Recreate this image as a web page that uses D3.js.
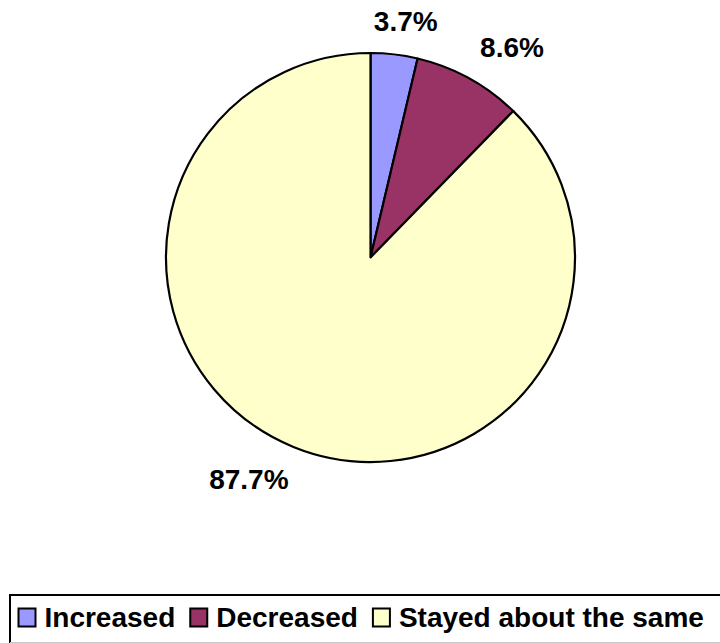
<!DOCTYPE html>
<html>
<head>
<meta charset="utf-8">
<script src="https://cdn.jsdelivr.net/npm/d3@7"></script>
<style>
  html, body { margin: 0; padding: 0; background: #fff; }
  svg { display: block; }
  text { font-family: Arial, "Liberation Sans", sans-serif; font-weight: bold; }
</style>
</head>
<body>
<svg id="chart" width="720" height="643"></svg>
<script>
const categories = ["Increased", "Decreased", "Stayed about the same"];
const values = [3.7, 8.6, 87.7];
const labels = ["3.7%", "8.6%", "87.7%"];
const colors = ["#9999FF", "#993366", "#FFFFCC"];

const svg = d3.select("#chart");
const W = 720, H = 643;
const cx = 370.5, cy = 257.5, r = 204.5;
const fontSize = 28;

const pie = d3.pie().sort(null).value(d => d)(values);
const arc = d3.arc().innerRadius(0).outerRadius(r);

const g = svg.append("g").attr("transform", `translate(${cx},${cy})`);

g.selectAll("path.slice")
  .data(pie)
  .join("path")
  .attr("class", "slice")
  .attr("d", arc)
  .attr("fill", (d, i) => colors[i])
  .attr("stroke", "#000")
  .attr("stroke-width", 2.2)
  .attr("stroke-linejoin", "round");

// outside-end labels: anchor point just outside the arc, box pushed outward
const labelR = r + 23;
const clamp = v => Math.max(-0.5, Math.min(0.5, v));
const lab = g.selectAll("text.lab")
  .data(pie)
  .join("text")
  .attr("class", "lab")
  .attr("font-size", fontSize)
  .attr("fill", "#000")
  .attr("text-anchor", "middle")
  .text((d, i) => labels[i]);

lab.each(function(d) {
  const w = this.getComputedTextLength();
  const h = 22;
  const a = (d.startAngle + d.endAngle) / 2;
  const px = labelR * Math.sin(a), py = -labelR * Math.cos(a);
  const x = px + w * clamp(1.2 * Math.sin(a));
  const y = py - h * clamp(1.2 * Math.cos(a));
  d3.select(this).attr("x", x).attr("y", y + fontSize * 0.716 / 2);
});

// legend
const legTop = 595, legLeft = 10;
svg.append("rect")
  .attr("x", legLeft).attr("y", legTop)
  .attr("width", W + 20).attr("height", 60)
  .attr("fill", "#fff").attr("stroke", "#000").attr("stroke-width", 2);
svg.append("line")
  .attr("x1", legLeft).attr("x2", W).attr("y1", 642.5).attr("y2", 642.5)
  .attr("stroke", "#c8c8c8").attr("stroke-width", 1);

const baseline = 627;
let xPos = 18.5;
categories.forEach((c, i) => {
  svg.append("rect")
    .attr("x", xPos).attr("y", 608.5)
    .attr("width", 17).attr("height", 18)
    .attr("fill", colors[i]).attr("stroke", "#000").attr("stroke-width", 2);
  const t = svg.append("text")
    .attr("x", xPos + 26).attr("y", baseline)
    .attr("font-size", fontSize).attr("fill", "#000")
    .text(c);
  const w = t.node().getComputedTextLength();
  xPos = xPos + 26 + w + 15;
});
</script>
</body>
</html>
